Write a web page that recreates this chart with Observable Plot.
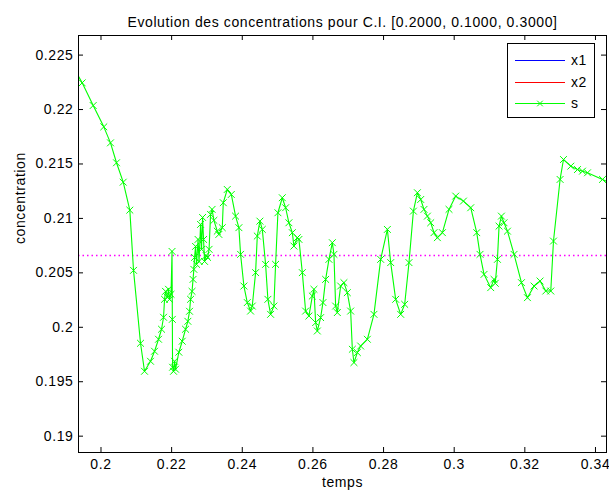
<!DOCTYPE html>
<html>
<head>
<meta charset="utf-8">
<script src="https://cdn.jsdelivr.net/npm/d3@7"></script>
<script src="https://cdn.jsdelivr.net/npm/@observablehq/plot@0.6"></script>
<style>
  html, body { margin: 0; padding: 0; background: #fff; }
</style>
</head>
<body>
<div id="chart"></div>
<script>
// ---- data ----
const title = "Evolution des concentrations pour C.I. [0.2000, 0.1000, 0.3000]";
const xLabel = "temps";
const yLabel = "concentration";
const xTicks = [0.2, 0.22, 0.24, 0.26, 0.28, 0.3, 0.32, 0.34];
const xTickLabels = ["0.2", "0.22", "0.24", "0.26", "0.28", "0.3", "0.32", "0.34"];
const yTicks = [0.19, 0.195, 0.2, 0.205, 0.21, 0.215, 0.22, 0.225];
const yTickLabels = ["0.19", "0.195", "0.2", "0.205", "0.21", "0.215", "0.22", "0.225"];
const xDomain = [0.19363, 0.34312];
const yDomain = [0.1885, 0.2268];
const seriesNames = ["x1", "x2", "s"];
const refLevel = 0.2066;

const temps = [
  0.1925, 0.19467, 0.19779, 0.20079, 0.20269, 0.20439, 0.20629, 0.20816, 0.20921, 0.21119,
  0.21232, 0.21402, 0.21516, 0.21629, 0.21714, 0.21771, 0.21799, 0.21827, 0.21884, 0.21912,
  0.21941, 0.21983, 0.22011, 0.22020, 0.22026, 0.22054, 0.22082, 0.22111, 0.22204, 0.22300,
  0.22394, 0.22459, 0.22507, 0.22536, 0.22578, 0.22606, 0.22629, 0.22649, 0.22677, 0.22705,
  0.22748, 0.22776, 0.22819, 0.22847, 0.22876, 0.22904, 0.22932, 0.22975, 0.23017, 0.23060,
  0.23102, 0.23145, 0.23196, 0.23292, 0.23337, 0.23434, 0.23462, 0.23575, 0.23689, 0.23810,
  0.23904, 0.23952, 0.24046, 0.24142, 0.24235, 0.24283, 0.24377, 0.24425, 0.24499, 0.24567,
  0.24660, 0.24725, 0.24802, 0.24895, 0.24943, 0.25009, 0.25133, 0.25227, 0.25320, 0.25417,
  0.25462, 0.25558, 0.25604, 0.25700, 0.25793, 0.25887, 0.25983, 0.26029, 0.26077, 0.26125,
  0.26218, 0.26284, 0.26360, 0.26454, 0.26550, 0.26595, 0.26643, 0.26691, 0.26785, 0.26878,
  0.26974, 0.27068, 0.27116, 0.27162, 0.27258, 0.27351, 0.27541, 0.27728, 0.27918, 0.28108,
  0.28202, 0.28343, 0.28485, 0.28598, 0.28720, 0.28845, 0.28958, 0.29052, 0.29145, 0.29241,
  0.29335, 0.29428, 0.29524, 0.29666, 0.29853, 0.30043, 0.30261, 0.30468, 0.30638, 0.30731,
  0.30845, 0.31034, 0.31128, 0.31162, 0.31224, 0.31270, 0.31337, 0.31411, 0.31508, 0.31695,
  0.31904, 0.32074, 0.32261, 0.32431, 0.32593, 0.32734, 0.32811, 0.32998, 0.33094, 0.33301,
  0.33491, 0.33632, 0.33774, 0.34199, 0.3445
];
const sValues = [
  0.2237, 0.22245, 0.22037, 0.21841, 0.21694, 0.21511, 0.21333, 0.21076, 0.20523, 0.19853,
  0.19596, 0.19688, 0.19780, 0.19890, 0.19982, 0.20092, 0.20257, 0.20330, 0.20275, 0.20349,
  0.20257, 0.20303, 0.20697, 0.20073, 0.19633, 0.19596, 0.19688, 0.19615, 0.19771, 0.19872,
  0.19982, 0.20055, 0.20147, 0.20257, 0.20330, 0.20440, 0.20532, 0.20642, 0.20743, 0.20578,
  0.20807, 0.20605, 0.20945, 0.20716, 0.21009, 0.20807, 0.20605, 0.20660, 0.20642, 0.20716,
  0.21037, 0.21083, 0.20982, 0.20883, 0.20853, 0.20915, 0.21144, 0.21266, 0.21220, 0.21021,
  0.20915, 0.20670, 0.20379, 0.20227, 0.20149, 0.20195, 0.20502, 0.20838, 0.20975, 0.20899,
  0.20578, 0.20257, 0.20119, 0.20195, 0.20578, 0.21052, 0.21190, 0.21098, 0.20960, 0.20869,
  0.20746, 0.20823, 0.20807, 0.20502, 0.20149, 0.20104, 0.20287, 0.20349, 0.20043, 0.19966,
  0.20089, 0.20227, 0.20440, 0.20624, 0.20777, 0.20670, 0.20195, 0.20135, 0.20379, 0.20410,
  0.20318, 0.20149, 0.19798, 0.19676, 0.19768, 0.19828, 0.19890, 0.20119, 0.20624, 0.20899,
  0.20594, 0.20257, 0.20119, 0.20211, 0.20594, 0.21067, 0.21236, 0.21174, 0.21083, 0.21021,
  0.20960, 0.20869, 0.20823, 0.20869, 0.21083, 0.21205, 0.21159, 0.21098, 0.20869, 0.20670,
  0.20486, 0.20364, 0.20440, 0.20404, 0.20624, 0.20929, 0.21021, 0.20960, 0.20883, 0.20670,
  0.20410, 0.20272, 0.20379, 0.20425, 0.20333, 0.20333, 0.20792, 0.21358, 0.21541, 0.21480,
  0.21449, 0.21434, 0.21419, 0.21358, 0.2132
];

// ---- layout / style ----
const W = 609, H = 497;
const mL = 78, mR = 3, mT = 35, mB = 45;
const frameW = W - mL - mR, frameH = H - mT - mB;
const tickLen = 5;
const green = "#00ff00";
const fontFamily = "'Liberation Sans', Arial, Helvetica, sans-serif";
const fs = 14;
const ls = "0.6px";

const data = temps.map((t, i) => ({t, c: sValues[i]}));

const chart = Plot.plot({
  width: W,
  height: H,
  marginLeft: mL,
  marginRight: mR,
  marginTop: mT,
  marginBottom: mB,
  style: {fontFamily, fontSize: fs + "px", background: "#fff", color: "#000", letterSpacing: ls},
  x: {domain: xDomain, label: null},
  y: {domain: yDomain, label: null},
  marks: [
    Plot.ruleY([refLevel], {stroke: "#ff00ff", strokeWidth: 1.5, strokeDasharray: "1.5,3"}),
    Plot.line(data, {x: "t", y: "c", stroke: green, strokeWidth: 1.1, clip: true}),
    Plot.dot(data, {x: "t", y: "c", symbol: "times", r: 3.2, stroke: green, strokeWidth: 1, clip: true}),
    // inward ticks on all four sides
    Plot.tickX(xTicks, {x: d => d, stroke: "#000", insetTop: frameH - tickLen}),
    Plot.tickX(xTicks, {x: d => d, stroke: "#000", insetBottom: frameH - tickLen}),
    Plot.tickY(yTicks, {y: d => d, stroke: "#000", insetRight: frameW - tickLen}),
    Plot.tickY(yTicks, {y: d => d, stroke: "#000", insetLeft: frameW - tickLen}),
    Plot.axisX(xTicks, {tickSize: 0, tickPadding: 7, tickFormat: (d, i) => xTickLabels[i], fontSize: fs, label: null}),
    Plot.axisY(yTicks, {tickSize: 0, tickPadding: 5, tickFormat: (d, i) => yTickLabels[i], fontSize: fs, label: null}),
    Plot.frame({stroke: "#000", strokeWidth: 1}),
    Plot.text([title], {frameAnchor: "top", dy: -18, fontSize: fs, text: d => d}),
    Plot.text([xLabel], {frameAnchor: "bottom", dy: 34, fontSize: fs, text: d => d}),
    Plot.text([yLabel], {frameAnchor: "left", dx: -58, rotate: -90, fontSize: fs, text: d => d})
  ]
});

document.getElementById("chart").appendChild(chart);

// ---- legend box (MATLAB style) ----
const svg = d3.select(chart);
const lg = svg.append("g").attr("class", "legend");
const lx = 507, ly = 43, lw = 87, lh = 74;
lg.append("rect").attr("x", lx + 0.5).attr("y", ly + 0.5).attr("width", lw).attr("height", lh)
  .style("fill", "#fff").style("stroke", "#000");
const legendColors = ["#0000ff", "#ff0000", green];
seriesNames.forEach((name, i) => {
  const yy = Math.round(ly + 17 + i * 21.5) + 0.5;
  lg.append("line").attr("x1", lx + 8).attr("x2", lx + 58).attr("y1", yy).attr("y2", yy)
    .style("stroke", legendColors[i]).style("stroke-width", 1);
  if (i === 2) {
    const cx = lx + 33, s = 2.8;
    lg.append("path").attr("d", `M${cx - s},${yy - s}L${cx + s},${yy + s}M${cx - s},${yy + s}L${cx + s},${yy - s}`)
      .style("stroke", green).style("stroke-width", 1).style("fill", "none");
  }
  lg.append("text").attr("x", lx + 64).attr("y", yy).attr("dy", "0.35em")
    .style("text-anchor", "start")
    .style("font-size", fs + "px").style("font-family", fontFamily).style("letter-spacing", ls)
    .style("fill", "#000").text(name);
});
</script>
</body>
</html>
